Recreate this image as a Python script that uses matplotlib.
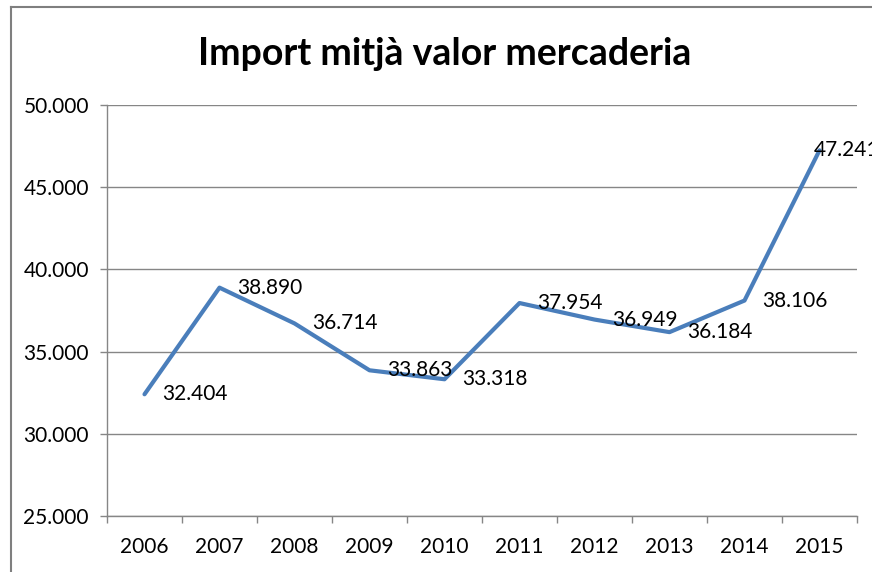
import matplotlib

matplotlib.use("Agg")
import matplotlib.pyplot as plt
from matplotlib.lines import Line2D
from matplotlib import ticker

YEARS = ["2006", "2007", "2008", "2009", "2010", "2011", "2012", "2013", "2014", "2015"]
VALUES = [32404, 38890, 36714, 33863, 33318, 37954, 36949, 36184, 38106, 47241]
TITLE = "Import mitjà valor mercaderia"

W, H = 872, 572
plt.rcParams["font.family"] = ["Lato", "DejaVu Sans"]

fig = plt.figure(figsize=(W / 100, H / 100), dpi=100)
ax = fig.add_axes([107 / W, 1 - 516 / H, 750 / W, 411 / H])

grid_col = "#868686"
x = list(range(len(YEARS)))
ax.plot(x, VALUES, color="#4A7EBB", linewidth=3, solid_capstyle="round", clip_on=False)

for xi, v in zip(x, VALUES):
    label = f"{v:,}".replace(",", ".")
    # last label sits over its point, as Excel pushes it back inside the chart
    dx = -4 if xi == len(x) - 1 else 13
    ax.annotate(label, (xi, v), xytext=(dx, 0), textcoords="offset points",
                ha="left", va="center", fontsize=15, color="#000000",
                annotation_clip=False)

ax.set_xlim(-0.5, len(YEARS) - 0.5)
ax.set_ylim(25000, 50000)
ax.yaxis.set_major_locator(ticker.MultipleLocator(5000))
ax.yaxis.set_major_formatter(ticker.FuncFormatter(lambda v, _: f"{int(v):,}".replace(",", ".")))
ax.set_xticks(x)
ax.set_xticklabels(YEARS)
ax.xaxis.set_minor_locator(ticker.FixedLocator([i - 0.5 for i in range(len(YEARS) + 1)]))

ax.tick_params(axis="x", which="major", length=0, pad=15, labelsize=15)
ax.tick_params(axis="x", which="minor", length=5, color=grid_col, width=1)
ax.tick_params(axis="y", which="major", length=5, color=grid_col, width=1, pad=8, labelsize=15)

ax.set_axisbelow(True)
ax.yaxis.grid(True, color=grid_col, linewidth=1)
for side in ["top", "right"]:
    ax.spines[side].set_visible(False)
for side in ["left", "bottom"]:
    ax.spines[side].set_color(grid_col)
    ax.spines[side].set_linewidth(1)

fig.text(445 / W, 1 - 54 / H, TITLE, ha="center", va="center", fontsize=27, fontweight="bold")

# chart frame (only left and top edges are inside the picture)
fig.add_artist(Line2D([11 / W, 11 / W], [0, 1 - 7 / H], color="#7F7F7F", linewidth=1.5))
fig.add_artist(Line2D([11 / W, 1], [1 - 7 / H, 1 - 7 / H], color="#7F7F7F", linewidth=1.5))

fig.savefig("out.png", dpi=100)
plt.close(fig)
